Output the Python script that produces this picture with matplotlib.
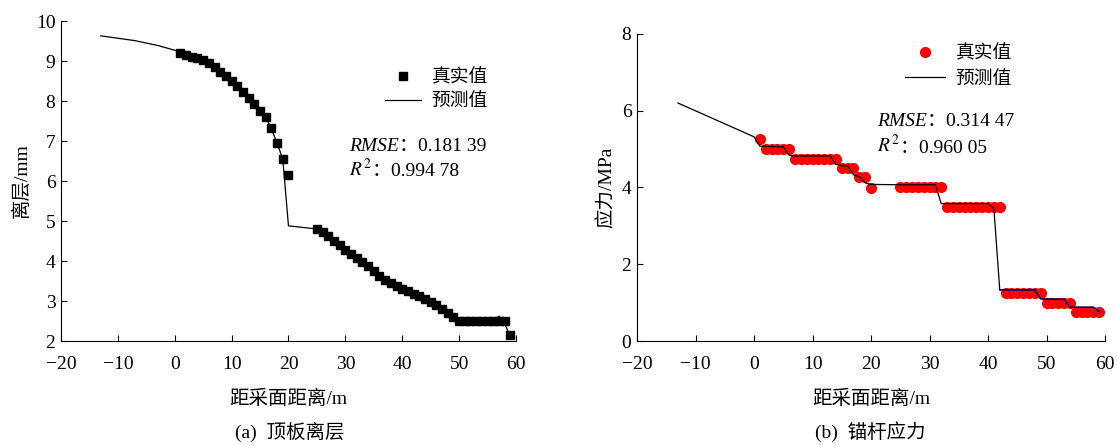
import matplotlib
matplotlib.use("Agg")
import matplotlib.pyplot as plt
from matplotlib.offsetbox import TextArea, HPacker, AnnotationBbox

plt.rcParams['font.family'] = ['Liberation Serif', 'Noto Sans CJK SC']
plt.rcParams['mathtext.fontset'] = 'stix'
plt.rcParams['axes.unicode_minus'] = True

# (a) 顶板离层
x_a = list(range(1, 21)) + list(range(25, 60))
real_a = [9.21, 9.15, 9.11, 9.08, 9.03, 8.94, 8.84, 8.73, 8.63, 8.51,
          8.38, 8.23, 8.07, 7.93, 7.75, 7.59, 7.32, 6.94, 6.55, 6.16,
          4.80, 4.72, 4.62, 4.50, 4.40, 4.28, 4.18, 4.08, 3.98, 3.88,
          3.74, 3.62, 3.52, 3.46, 3.38, 3.30, 3.24, 3.18, 3.12, 3.05,
          2.98, 2.90, 2.80, 2.70, 2.60, 2.50, 2.50, 2.50, 2.50, 2.50,
          2.50, 2.50, 2.50, 2.50, 2.15]
xp_a = list(range(-13, 21)) + list(range(25, 60))
pred_a = [9.63, 9.61, 9.59, 9.57, 9.55, 9.53, 9.51, 9.48, 9.45, 9.42,
          9.39, 9.35, 9.31, 9.27,
          9.22, 9.17, 9.12, 9.07, 9.02, 8.94, 8.85, 8.74, 8.63, 8.51,
          8.38, 8.24, 8.09, 7.93, 7.78, 7.60, 7.30, 6.95, 6.55, 4.88,
          4.80, 4.72, 4.62, 4.50, 4.40, 4.28, 4.18, 4.08, 3.98, 3.88,
          3.74, 3.62, 3.52, 3.46, 3.38, 3.30, 3.24, 3.18, 3.12, 3.05,
          2.98, 2.90, 2.80, 2.70, 2.60, 2.50, 2.50, 2.50, 2.50, 2.50,
          2.50, 2.50, 2.62, 2.45, 2.10]

# (b) 锚杆应力
x_b = list(range(1, 21)) + list(range(25, 60))
real_b = [5.27, 5.00, 5.00, 5.00, 5.00, 5.00, 4.75, 4.75, 4.75, 4.75,
          4.75, 4.75, 4.75, 4.75, 4.52, 4.52, 4.52, 4.28, 4.28, 3.99,
          4.00, 4.00, 4.00, 4.00, 4.00, 4.00, 4.00, 4.00,
          3.50, 3.50, 3.50, 3.50, 3.50, 3.50, 3.50, 3.50, 3.50, 3.50,
          1.25, 1.25, 1.25, 1.25, 1.25, 1.25, 1.25,
          1.00, 1.00, 1.00, 1.00, 1.00,
          0.76, 0.76, 0.76, 0.76, 0.76]
xp_b = [-13, 0] + list(range(1, 21)) + list(range(25, 60))
pred_b = [6.20, 5.32,
          5.08, 5.07, 5.07, 5.06, 5.06, 4.84, 4.82, 4.82, 4.82, 4.82,
          4.82, 4.82, 4.82, 4.60, 4.57, 4.56, 4.33, 4.28, 4.12, 4.08,
          4.07, 4.07, 4.07, 4.07, 4.07, 4.07, 4.07, 3.58,
          3.58, 3.58, 3.58, 3.58, 3.58, 3.58, 3.58, 3.58, 3.45, 1.33,
          1.33, 1.33, 1.33, 1.33, 1.33, 1.33, 1.10, 1.09, 1.09, 1.09,
          1.09, 0.88, 0.88, 0.88, 0.88, 0.88, 0.76]

fs = 14
fig = plt.figure(figsize=(11.17, 4.45), dpi=100)
ax1 = fig.add_axes([0.0546, 0.2337, 0.4073, 0.719])
ax2 = fig.add_axes([0.5703, 0.2337, 0.419, 0.690])

ax1.plot(x_a, real_a, 's', color='black', ms=5.5, label='真实值', zorder=2)
ax1.plot(xp_a, pred_a, '-', color='black', lw=0.9, label='预测值', zorder=3)
ax1.set_xlim(-20, 60)
ax1.set_ylim(2, 10)
ax1.set_yticks(range(2, 11))
ax1.set_ylabel('离层/mm', fontsize=fs, labelpad=4)

ax2.plot(x_b, real_b, 'o', color='#ff0000', ms=7, label='真实值', zorder=2)
ax2.plot(xp_b, pred_b, '-', color='black', lw=0.9, label='预测值', zorder=3)
ax2.plot(xp_b[-18:], pred_b[-18:], '-', color='#000080', lw=0.9, zorder=4)
ax2.set_xlim(-20, 60)
ax2.set_ylim(0, 8)
ax2.set_yticks(range(0, 9, 2))
ax2.set_ylabel('应力/MPa', fontsize=fs, labelpad=4)

for ax in (ax1, ax2):
    ax.set_xticks(range(-20, 61, 10))
    ax.spines['top'].set_visible(False)
    ax.spines['right'].set_visible(False)
    ax.tick_params(direction='in', length=4, width=0.8, labelsize=fs, pad=4)
    ax.tick_params(axis='x', pad=11)
    ax.set_xlabel('距采面距离/m', fontsize=fs, labelpad=12)
    for s in ('left', 'bottom'):
        ax.spines[s].set_linewidth(0.8)

ax1.legend(loc='center left', bbox_to_anchor=(0.712, 0.786), frameon=False,
           fontsize=13.5, handlelength=1.9, handletextpad=0.6, borderpad=0,
           borderaxespad=0, labelspacing=0.35, numpoints=1)
ax2.legend(loc='center left', bbox_to_anchor=(0.573, 0.894), frameon=False,
           fontsize=13.5, handlelength=2.1, handletextpad=0.6, borderpad=0,
           borderaxespad=0, labelspacing=0.45, numpoints=1)

serif = dict(family='Liberation Serif', size=fs)
cjk = dict(family=['Noto Sans CJK SC'], size=fs)


def stat_line(ax, xy, name, value, math=False):
    if math:
        first = TextArea(name, textprops=dict(size=fs))
    else:
        first = TextArea(name, textprops=dict(serif, style='italic'))
    box = HPacker(children=[first,
                            TextArea('：', textprops=cjk),
                            TextArea(value, textprops=serif)],
                  align='baseline', pad=0, sep=0)
    ab = AnnotationBbox(box, xy, xycoords='data', box_alignment=(0, 0.5),
                        frameon=False, pad=0)
    ax.add_artist(ab)


stat_line(ax1, (30.6, 6.9), 'RMSE', '0.181 39')
stat_line(ax1, (30.6, 6.28), r'$R^2$', '0.994 78', math=True)
stat_line(ax2, (21.0, 5.75), 'RMSE', '0.314 47')
stat_line(ax2, (21.0, 5.08), r'$R^2$', '0.960 05', math=True)

fig.text(290 / 1117, 1 - 432 / 445, '(a)  顶板离层', ha='center', va='center', fontsize=fs)
fig.text(870 / 1117, 1 - 432 / 445, '(b)  锚杆应力', ha='center', va='center', fontsize=fs)

fig.savefig('out.png', dpi=100)
